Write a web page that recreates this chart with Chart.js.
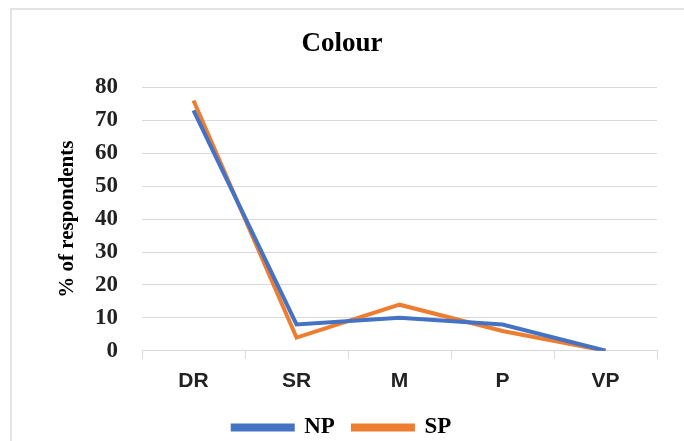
<!DOCTYPE html>
<html>
<head>
<meta charset="utf-8">
<script src="https://cdn.jsdelivr.net/npm/chart.js@4/dist/chart.umd.min.js"></script>
<style>
  html, body { margin: 0; padding: 0; background: #fff; }
  #frame {
    position: absolute; left: 10px; top: 8px;
    width: 700px; height: 460px;
    border-left: 2px solid #e3e3e3; border-top: 2px solid #e3e3e3;
  }
  #wrap { position: absolute; left: 0; top: 0; width: 684px; height: 441px; }
</style>
</head>
<body>
<div id="frame"></div>
<div id="wrap"><canvas id="chart"></canvas></div>
<script>
// Colour ratings, % of respondents
var categories = ["DR", "SR", "M", "P", "VP"];
var npValues = [73, 8, 10, 8, 0];
var spValues = [76, 4, 14, 6, 0];
var yTicks = [0, 10, 20, 30, 40, 50, 60, 70, 80];

var serifBold = function(size) {
  return { family: "'Liberation Serif', 'Times New Roman', serif", size: size, weight: "bold" };
};

var ctx = document.getElementById("chart").getContext("2d");
var chart = new Chart(ctx, {
  type: "line",
  data: {
    labels: categories,
    datasets: [
      { label: "NP", data: npValues, borderColor: "#4472C4", backgroundColor: "#4472C4",
        borderWidth: 4, pointRadius: 0, tension: 0 },
      { label: "SP", data: spValues, borderColor: "#ED7D31", backgroundColor: "#ED7D31",
        borderWidth: 4, pointRadius: 0, tension: 0 }
    ]
  },
  options: {
    responsive: true,
    maintainAspectRatio: false,
    animation: false,
    layout: { padding: { left: 27, right: 27, top: 0, bottom: -8 } },
    plugins: {
      title: {
        display: true,
        text: "Colour",
        color: "#000",
        font: serifBold(27),
        padding: { top: 28, bottom: 27 }
      },
      legend: {
        position: "bottom",
        labels: {
          color: "#000",
          font: serifBold(23),
          boxWidth: 60,
          boxHeight: 4,
          padding: 18
        }
      },
      tooltip: { enabled: false }
    },
    scales: {
      x: {
        offset: true,
        afterFit: function(scale) { scale.height -= 6; },
        grid: { offset: true, drawOnChartArea: false, drawTicks: true, tickLength: 8, color: "#d9d9d9" },
        border: { display: true, color: "#d9d9d9", width: 1 },
        ticks: {
          color: "#222",
          padding: 10,
          font: { family: "'Liberation Sans', Arial, sans-serif", size: 21, weight: "bold" }
        }
      },
      y: {
        min: 0,
        max: 80,
        afterFit: function(scale) { scale.width = 115; },
        afterBuildTicks: function(scale) {
          scale.ticks = yTicks.map(function(v) { return { value: v }; });
        },
        grid: { color: "#d9d9d9", drawTicks: false },
        border: { display: false },
        ticks: { color: "#222", padding: 24, font: serifBold(23) },
        title: {
          display: true,
          text: "% of respondents",
          color: "#000",
          font: serifBold(21),
          padding: { top: 28, bottom: 0 }
        }
      }
    }
  }
});
</script>
</body>
</html>
